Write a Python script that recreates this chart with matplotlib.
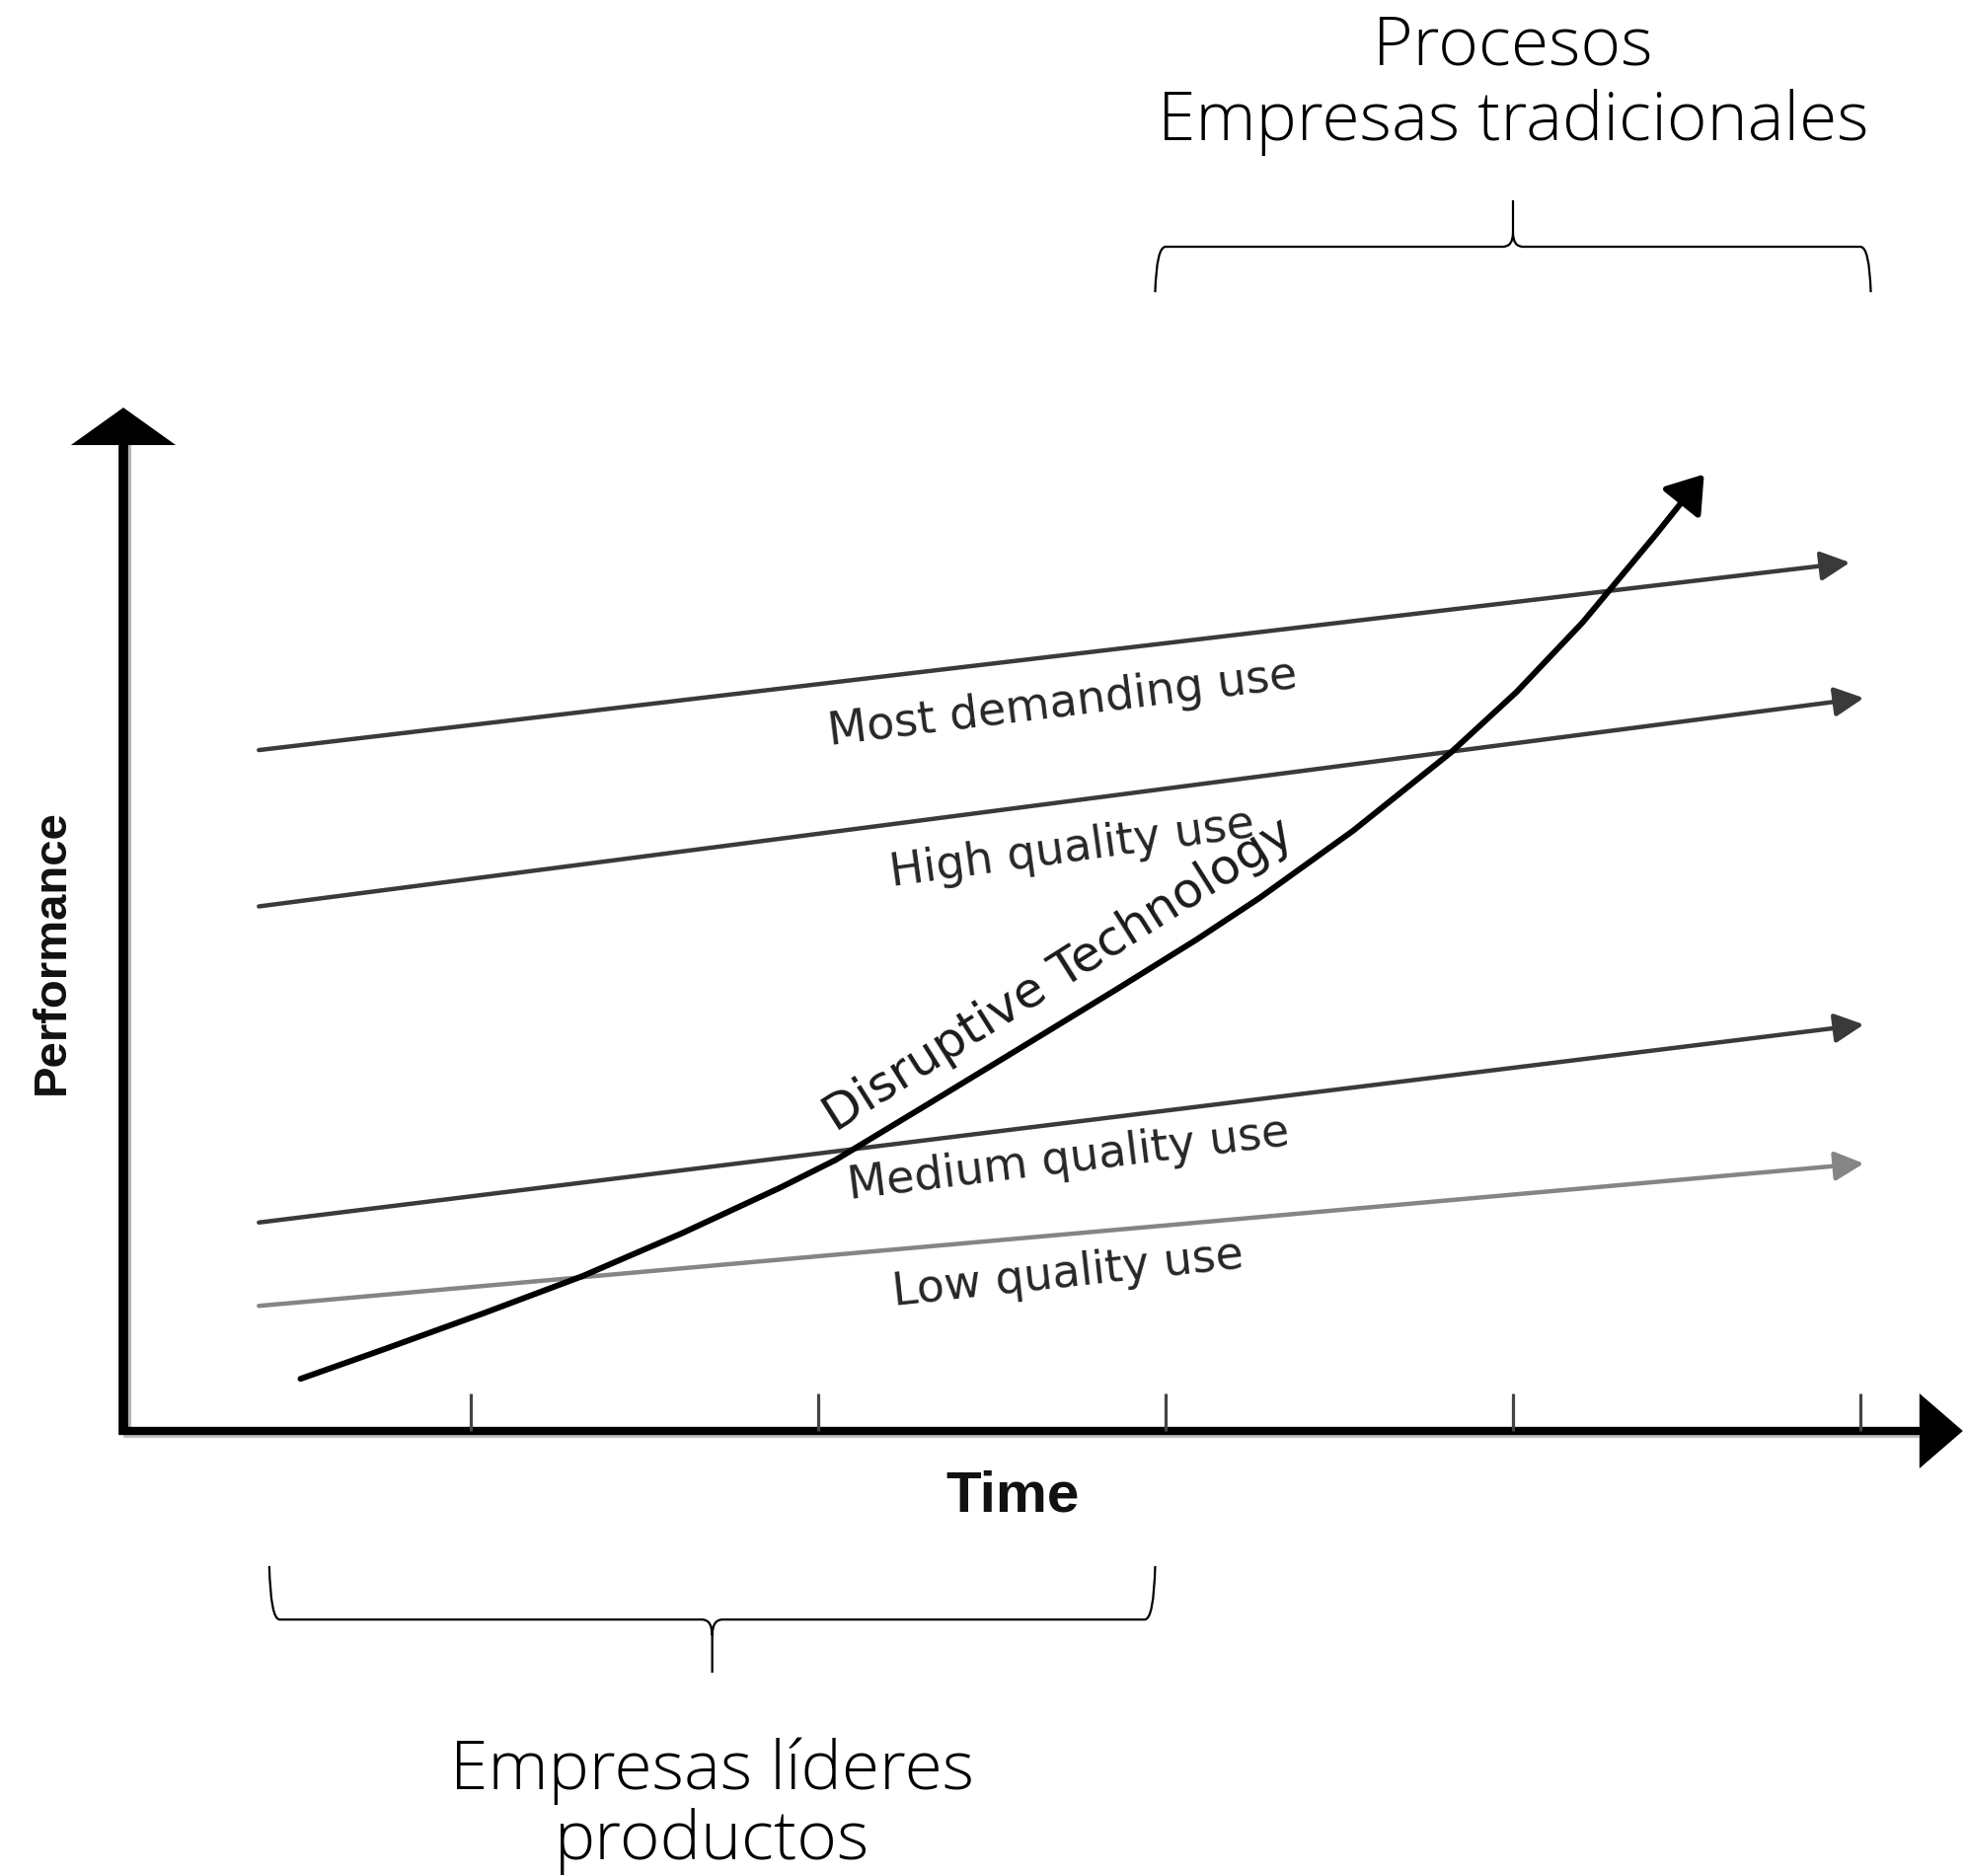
import numpy as np
import matplotlib
matplotlib.use('Agg')
import matplotlib.pyplot as plt
from matplotlib.patches import FancyArrowPatch, PathPatch
from matplotlib.path import Path

# units: one tick of time = 1, performance in the same units
ticks = [1, 2, 3, 4, 5]

seg_names = ['Most demanding use', 'High quality use', 'Medium quality use', 'Low quality use']
seg_t0 = [0.39, 0.39, 0.39, 0.39]
seg_p0 = [1.96, 1.51, 0.60, 0.36]
seg_t1 = [4.97, 5.01, 5.01, 5.01]
seg_p1 = [2.50, 2.11, 1.17, 0.77]
seg_colors = ['#3a3a3a', '#3a3a3a', '#3a3a3a', '#858585']

disrupt_t = [0.51, 0.75, 1.04, 1.32, 1.61, 1.89, 2.05, 2.29, 2.57, 2.86, 3.09, 3.27,
             3.54, 3.82, 4.01, 4.20, 4.41, 4.55]
disrupt_p = [0.15, 0.235, 0.34, 0.445, 0.57, 0.70, 0.78, 0.925, 1.095, 1.272, 1.415, 1.534,
             1.728, 1.952, 2.127, 2.327, 2.579, 2.754]

# time spans covered by the two braces
top_span = (2.97, 5.03)
bottom_span = (0.42, 2.97)
top_lines = ['Procesos', 'Empresas tradicionales']
bottom_lines = ['Empresas líderes', 'productos']

U = 352.0  # pixels per unit
fig = plt.figure(figsize=(19.91, 19.01), dpi=100)
ax = fig.add_axes([0, 0, 1, 1])
ax.set_xlim(-125 / U, (1991 - 125) / U)
ax.set_ylim((1450 - 1901) / U, 1450 / U)
ax.axis('off')

# axes with arrows
ytop = 2.838
xend = 5.17
ax.plot([0.018, 0.018], [0, ytop], color='#b5b5b5', lw=3, solid_capstyle='butt')
ax.plot([0, xend], [-0.014, -0.014], color='#c0c0c0', lw=3, solid_capstyle='butt')
ax.plot([0, 0], [-0.012, ytop], color='black', lw=7, solid_capstyle='butt')
ax.plot([-0.01, xend], [0, 0], color='black', lw=6, solid_capstyle='butt')
ax.fill([-0.151, 0.151, 0], [ytop, ytop, ytop + 0.108], color='black', lw=0)
ax.fill([xend, xend, xend + 0.125], [0.108, -0.108, 0], color='black', lw=0)
for t in ticks:
    ax.plot([t, t], [0, 0.108], color='#444444', lw=2.3, solid_capstyle='butt')

# market segments
for t0, p0, t1, p1, c in zip(seg_t0, seg_p0, seg_t1, seg_p1, seg_colors):
    ax.add_patch(FancyArrowPatch((t0, p0), (t1, p1), arrowstyle='-|>,head_length=0.9,head_width=0.45',
                                 mutation_scale=20, shrinkA=0, shrinkB=0, lw=3.2, color=c))

lab_pos = [(2.705, 2.091, 7.0), (2.73, 1.676, 7.8), (2.722, 0.781, 7.0), (2.719, 0.452, 6.2)]
for name, (x, y, r) in zip(seg_names, lab_pos):
    ax.text(x, y, name, fontsize=33, color='#262626', rotation=r, rotation_mode='anchor',
            ha='center', va='center', family='DejaVu Sans')

# disruptive technology curve
path = Path(np.column_stack([disrupt_t, disrupt_p]))
ax.add_patch(FancyArrowPatch(path=path, arrowstyle='-|>,head_length=1.1,head_width=0.75',
                             mutation_scale=20, lw=4.3, color='black', joinstyle='round'))
ax.text(2.693, 1.313, 'Disruptive Technology', fontsize=36, color='#1a1a1a', rotation=32.3,
        rotation_mode='anchor', ha='center', va='center', family='DejaVu Sans')

ax.text(-0.205, 1.378, 'Performance', fontsize=34, fontweight='bold', rotation=90,
        ha='center', va='center', family='Liberation Sans', color='#111111')
ax.text(2.56, -0.19, 'Time', fontsize=42, fontweight='bold', ha='center', va='center',
        family='Liberation Sans', color='#111111')


def brace(x0, x1, yh, yend, ytip):
    xm = (x0 + x1) / 2
    d = 0.03
    yc = yh + (ytip - yh) * 0.3
    verts = [(x0, yend), (x0 + 0.004, yh), (x0 + d, yh), (xm - d, yh), (xm, yh), (xm, yc), (xm, ytip),
             (x1, yend), (x1 - 0.004, yh), (x1 - d, yh), (xm + d, yh), (xm, yh), (xm, yc)]
    codes = [Path.MOVETO, Path.CURVE3, Path.CURVE3, Path.LINETO, Path.CURVE3, Path.CURVE3, Path.LINETO,
             Path.MOVETO, Path.CURVE3, Path.CURVE3, Path.LINETO, Path.CURVE3, Path.CURVE3]
    ax.add_patch(PathPatch(Path(verts, codes), fill=False, lw=1.6, edgecolor='black'))
    return xm


xm = brace(top_span[0], top_span[1], 3.409, 3.278, 3.543)
for txt, y in zip(top_lines, [3.932, 3.716]):
    ax.text(xm, y, txt, fontsize=50, fontweight='light', family='Open Sans', ha='center', va='baseline',
            color='black')

xm = brace(bottom_span[0], bottom_span[1], -0.543, -0.389, -0.696)
for txt, y in zip(bottom_lines, [-1.031, -1.233]):
    ax.text(xm, y, txt, fontsize=50, fontweight='light', family='Open Sans', ha='center', va='baseline',
            color='black')

fig.savefig('out.png', dpi=100, facecolor='white')
